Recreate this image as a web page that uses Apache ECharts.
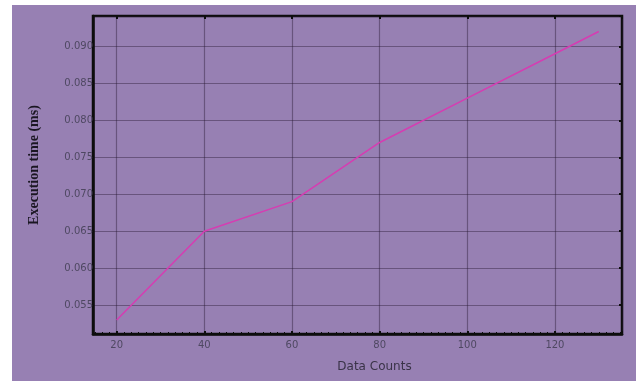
<!DOCTYPE html>
<html>
<head>
<meta charset="utf-8">
<script src="https://cdn.jsdelivr.net/npm/echarts@6/dist/echarts.min.js"></script>
<style>
html,body{margin:0;padding:0;background:#ffffff;}
#chart{position:absolute;left:12px;top:5px;width:624px;height:376px;}
</style>
</head>
<body>
<div id="chart"></div>
<script>
var dataCounts = [20, 40, 60, 80, 100, 120, 130];
var execTimes = [0.053, 0.065, 0.069, 0.077, 0.083, 0.089, 0.092];
var xTitle = 'Data Counts';
var yTitle = 'Execution time (ms)';

var points = dataCounts.map(function (x, i) { return [x, execTimes[i]]; });
var chart = echarts.init(document.getElementById('chart'));
var xMin = 14.6, xMax = 135.3, yMin = 0.0511, yMax = 0.0941;
var labelColor = '#4f4862';
var gridColor = 'rgba(40,25,50,0.42)';
chart.setOption({
  backgroundColor: '#9780b3',
  animation: false,
  grid: {left: 81, top: 11, right: 14, bottom: 47, show: true, borderColor: '#0d0d0d', borderWidth: 2.5, backgroundColor: 'transparent'},
  xAxis: [{
    type: 'value', min: xMin, max: xMax, splitNumber: 6,
    name: xTitle, nameLocation: 'middle', nameGap: 27,
    nameTextStyle: {fontFamily: 'DejaVu Sans', fontSize: 12, color: '#3a3348', padding: [0, 0, 0, 34]},
    axisLine: {show: true, lineStyle: {color: '#0d0d0d', width: 2.5}},
    axisTick: {show: true, inside: true, length: 3, lineStyle: {color: '#0d0d0d', width: 2}},
    minorTick: {show: true, splitNumber: 12, length: 2, lineStyle: {color: '#0d0d0d', width: 1}},
    axisLabel: {showMinLabel: false, showMaxLabel: false, fontFamily: 'DejaVu Sans', fontSize: 10, color: labelColor, margin: 6},
    splitLine: {show: true, lineStyle: {color: gridColor, width: 1.2}}
  }, {
    type: 'value', position: 'top', min: xMin, max: xMax, splitNumber: 6,
    axisLine: {show: false},
    axisTick: {show: true, inside: true, length: 3, lineStyle: {color: '#0d0d0d', width: 2}},
    axisLabel: {show: false}, splitLine: {show: false}
  }],
  yAxis: [{
    type: 'value', min: yMin, max: yMax, splitNumber: 8,
    name: yTitle, nameLocation: 'middle', nameGap: 52, nameRotate: 90,
    nameTextStyle: {fontFamily: 'Liberation Serif', fontSize: 14, fontWeight: 'bold', color: '#1a1622', padding: [0, 0, 0, 20]},
    axisLine: {show: true, lineStyle: {color: '#0d0d0d', width: 2.5}},
    axisTick: {show: false},
    axisLabel: {showMinLabel: false, showMaxLabel: false, fontFamily: 'DejaVu Sans', fontSize: 10, color: labelColor, margin: 0,
      formatter: function (v) { return v.toFixed(3); }},
    splitLine: {show: true, lineStyle: {color: gridColor, width: 1.2}}
  }, {
    type: 'value', position: 'right', min: yMin, max: yMax, splitNumber: 8,
    axisLine: {show: false},
    axisTick: {show: true, inside: true, length: 3, lineStyle: {color: '#0d0d0d', width: 2}},
    axisLabel: {show: false}, splitLine: {show: false}
  }],
  series: [{
    type: 'line', data: points, showSymbol: false, symbol: 'none',
    lineStyle: {color: '#d63cb2', width: 1.5}
  }]
});
</script>
</body>
</html>
